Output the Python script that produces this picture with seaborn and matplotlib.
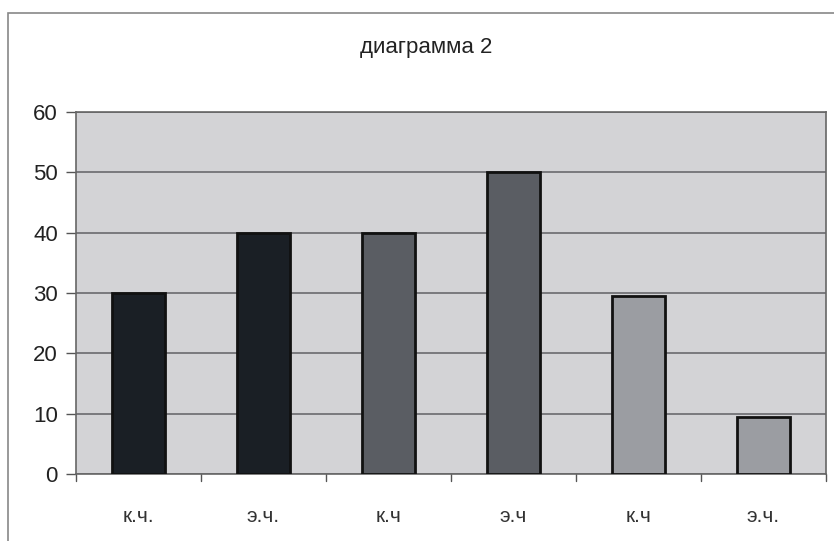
import matplotlib
matplotlib.use("Agg")
import matplotlib.pyplot as plt
from matplotlib.patches import Rectangle
import pandas as pd
import seaborn as sns

# данные диаграммы
categories = ["к.ч.", "э.ч.", "к.ч", "э.ч", "к.ч", "э.ч."]
values = [30, 40, 40, 50, 29.5, 9.5]
bar_colors = ["#1a1f25", "#1a1f25", "#5a5d63", "#5a5d63", "#9b9da2", "#9b9da2"]
yticks = [0, 10, 20, 30, 40, 50, 60]
title = "диаграмма 2"

sns.set_theme(style="white")
plt.rcParams["font.family"] = ["Liberation Sans", "DejaVu Sans"]

df = pd.DataFrame({"cat": [f"{i}" for i in range(len(categories))], "val": values})

fig = plt.figure(figsize=(8.34, 5.41), dpi=100)
fig.patch.set_facecolor("white")
ax = fig.add_axes([76 / 834, 1 - 474 / 541, 750 / 834, 362 / 541])
ax.set_facecolor("#d3d3d6")

sns.barplot(data=df, x="cat", y="val", hue="cat", palette=bar_colors,
            width=0.42, edgecolor="#111111", linewidth=2.0, legend=False,
            saturation=1, ax=ax, zorder=3)

ax.set_ylim(0, 60)
ax.set_xlim(-0.5, len(categories) - 0.5)
ax.set_yticks(yticks)
ax.set_yticklabels([str(t) for t in yticks], fontsize=16, color="#222222")
ax.yaxis.grid(True, color="#6a6a6e", linewidth=1.2, zorder=1)
ax.set_axisbelow(True)

# подписи категорий, деления между категориями (как в Excel)
ax.set_xticks(range(len(categories)))
ax.set_xticklabels(categories, fontsize=15, color="#333333")
ax.tick_params(axis="x", length=0, pad=24)
ax.tick_params(axis="y", length=7, width=1, color="#555555", pad=6, left=True)
for b in [i + 0.5 for i in range(len(categories) - 1)] + [-0.5, len(categories) - 0.5]:
    ax.plot([b, b], [0, -1.2], color="#555555", lw=1, clip_on=False)

for side in ["top", "right", "left", "bottom"]:
    ax.spines[side].set_color("#666666")
    ax.spines[side].set_linewidth(1.2)
ax.set_xlabel("")
ax.set_ylabel("")

fig.text(426 / 834, 1 - 47 / 541, title, ha="center", va="center",
         fontsize=16, color="#222222")

# рамка области диаграммы
fig.add_artist(Rectangle((8 / 834, -0.05), 1.1, 1 - 13 / 541 + 0.05,
                         transform=fig.transFigure, fill=False,
                         edgecolor="#888888", linewidth=1.2))

fig.savefig("out.png", dpi=100)
